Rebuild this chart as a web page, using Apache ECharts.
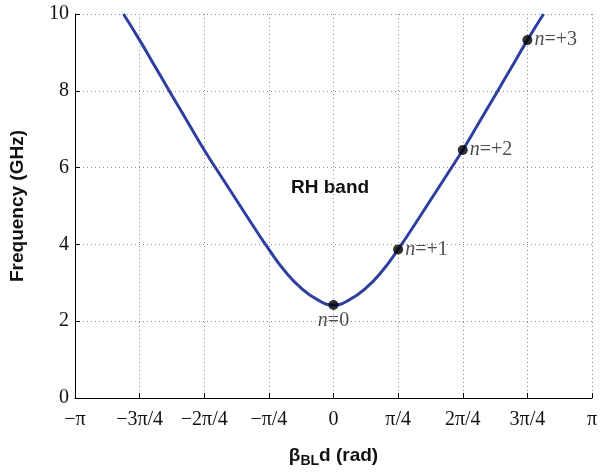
<!DOCTYPE html>
<html>
<head>
<meta charset="utf-8">
<script src="https://cdn.jsdelivr.net/npm/echarts@6/dist/echarts.min.js"></script>
<style>
html,body{margin:0;padding:0;background:#fff;}
#chart{width:602px;height:473px;}
</style>
</head>
<body>
<div id="chart"></div>
<script>
// x positions in units of pi/4
const xTickLabels = ['\u2212\u03c0','\u22123\u03c0/4','\u22122\u03c0/4','\u2212\u03c0/4','0','\u03c0/4','2\u03c0/4','3\u03c0/4','\u03c0'];
const yTicks = [0, 2, 4, 6, 8, 10];
const curveBeta = [-3.25,-3,-2.75,-2.5,-2.25,-2,-1.75,-1.5,-1.25,-1,-0.75,-0.5,-0.25,0,0.25,0.5,0.75,1,1.25,1.5,1.75,2,2.25,2.5,2.75,3,3.25];
const curveFreq = [10,9.32,8.6,7.88,7.17,6.46,5.8,5.15,4.5,3.87,3.3,2.86,2.56,2.42,2.56,2.86,3.3,3.87,4.5,5.15,5.8,6.46,7.17,7.88,8.6,9.32,10];
const modeBeta = [0, 1, 2, 3];
const modeFreq = [2.42, 3.87, 6.46, 9.32];
const modeNums = ['0', '+1', '+2', '+3'];

const chart = echarts.init(document.getElementById('chart'));
const serif = 'Liberation Serif';
const sans = 'Liberation Sans';
const gridLine = {show: true, lineStyle: {color: '#8a8a8a', type: [1, 3], width: 1}};

const option = {
  animation: false,
  backgroundColor: '#fff',
  grid: {left: 74, right: 10, top: 14, bottom: 75, containLabel: false},
  xAxis: {
    type: 'value', min: -4, max: 4, interval: 1,
    axisLine: {show: true, onZero: false, lineStyle: {color: '#000', width: 1}},
    axisTick: {show: true, inside: true, length: 5, lineStyle: {color: '#000'}},
    axisLabel: {fontFamily: serif, fontSize: 20, color: '#111', margin: 12,
      formatter: v => xTickLabels[Math.round(v) + 4]},
    splitLine: gridLine,
    name: '{b|\u03b2}{s|BL}{b|d (rad)}',
    nameLocation: 'middle', nameGap: 46,
    nameTextStyle: {rich: {
      b: {fontFamily: sans, fontWeight: 'bold', fontSize: 19, color: '#111'},
      s: {fontFamily: sans, fontWeight: 'bold', fontSize: 14, color: '#111', verticalAlign: 'bottom', padding: [10, 0, 0, 0]}
    }}
  },
  yAxis: {
    type: 'value', min: 0, max: 10, interval: 2,
    axisLine: {show: true, onZero: false, lineStyle: {color: '#000', width: 1}},
    axisTick: {show: true, inside: true, length: 5, lineStyle: {color: '#000'}},
    axisLabel: {fontFamily: serif, fontSize: 20, color: '#111', margin: 6},
    splitLine: gridLine,
    name: 'Frequency (GHz)', nameLocation: 'middle', nameGap: 48,
    nameTextStyle: {fontFamily: sans, fontWeight: 'bold', fontSize: 19, color: '#111'}
  },
  series: [
    {
      type: 'line', smooth: 0.5, symbol: 'none',
      lineStyle: {color: '#2f3f9f', width: 3},
      data: curveBeta.map((b, i) => [b, curveFreq[i]]),
      z: 2
    },
    {
      type: 'scatter', symbolSize: 10,
      itemStyle: {color: '#000'},
      data: modeBeta.map((b, i) => ({
        value: [b, modeFreq[i]],
        label: {
          show: true,
          position: i === 0 ? 'bottom' : 'right',
          distance: i === 0 ? 1 : 2,
          formatter: '{i|n}{r|=' + modeNums[i] + '}',
          rich: {
            i: {fontFamily: serif, fontStyle: 'italic', fontSize: 20, color: '#222'},
            r: {fontFamily: serif, fontSize: 20, color: '#222'}
          }
        }
      })),
      z: 3
    }
  ],
  graphic: [
    {type: 'text', left: 291, top: 178,
     style: {text: 'RH band', fontFamily: sans, fontWeight: 'bold', fontSize: 19, fill: '#111'}}
  ]
};
chart.setOption(option);
</script>
</body>
</html>
